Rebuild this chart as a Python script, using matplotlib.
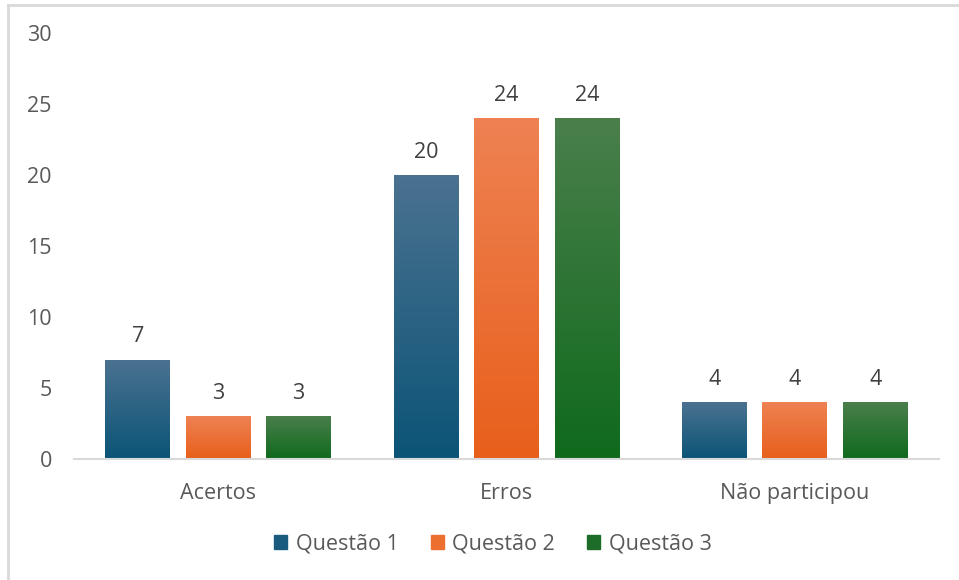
import matplotlib
matplotlib.use("Agg")
import matplotlib.pyplot as plt
import numpy as np
from matplotlib.colors import LinearSegmentedColormap
from matplotlib.lines import Line2D
from matplotlib.patches import Rectangle

categories = ["Acertos", "Erros", "Não participou"]
series = ["Questão 1", "Questão 2", "Questão 3"]
q1 = [7, 20, 4]
q2 = [3, 24, 4]
q3 = [3, 24, 4]
values = [q1, q2, q3]
top_colors = ["#4b7290", "#ee8253", "#4a7f4c"]
bot_colors = ["#0b5477", "#e85f1b", "#0f6a1c"]
solid_colors = ["#1a5c80", "#ec6f2f", "#1d6c27"]

plt.rcParams['font.family'] = ['Open Sans', 'DejaVu Sans']
FS = 15.5

W, H = 959, 580
fig = plt.figure(figsize=(W / 100, H / 100), dpi=100)
ax = fig.add_axes([74 / W, 1 - 459 / H, 865 / W, (459 - 33) / H])

x = np.arange(len(categories))
width = 0.225
offsets = [-0.279, 0.0, 0.279]
grad = np.linspace(0, 1, 256).reshape(-1, 1)

for i, (vals, name) in enumerate(zip(values, series)):
    cmap = LinearSegmentedColormap.from_list(f"g{i}", [bot_colors[i], top_colors[i]])
    bars = ax.bar(x + offsets[i], vals, width, color=solid_colors[i], label=name, zorder=2)
    for b, v in zip(bars, vals):
        bx, by = b.get_x(), b.get_y()
        bw, bh = b.get_width(), b.get_height()
        im = ax.imshow(grad, extent=[bx, bx + bw, by, by + bh], origin="lower",
                       cmap=cmap, aspect="auto", zorder=3)
        im.set_clip_path(b)
        ax.text(bx + bw / 2, v + 1.6, f"{v}", ha="center", va="center",
                fontsize=FS, color="#404040", zorder=4)

ax.set_xlim(-0.5, 2.5)
ax.set_ylim(0, 30)
ax.set_yticks(range(0, 31, 5))
ax.set_xticks(x)
ax.set_xticklabels(categories)
ax.tick_params(axis="both", length=0, labelsize=FS, labelcolor="#595959")
ax.tick_params(axis="y", pad=16)
ax.tick_params(axis="x", pad=17)
for s in ["top", "right", "left"]:
    ax.spines[s].set_visible(False)
ax.spines["bottom"].set_color("#d9d9d9")
ax.spines["bottom"].set_linewidth(1.5)
ax.spines["bottom"].set_zorder(5)

handles = [Rectangle((0, 0), 1, 1, color=c) for c in solid_colors]
fig.legend(handles, series, loc="center", bbox_to_anchor=(493 / W, 1 - 544 / H),
           ncol=3, frameon=False, fontsize=FS, labelcolor="#595959",
           handlelength=0.6, handleheight=0.6, handletextpad=0.4, columnspacing=1.5)

fig.add_artist(Line2D([8 / W, 8 / W], [0, 1 - 5 / H], color="#d9d9d9", lw=2, transform=fig.transFigure))
fig.add_artist(Line2D([8 / W, 1], [1 - 5 / H, 1 - 5 / H], color="#d9d9d9", lw=2, transform=fig.transFigure))

fig.savefig("out.png", dpi=100)
